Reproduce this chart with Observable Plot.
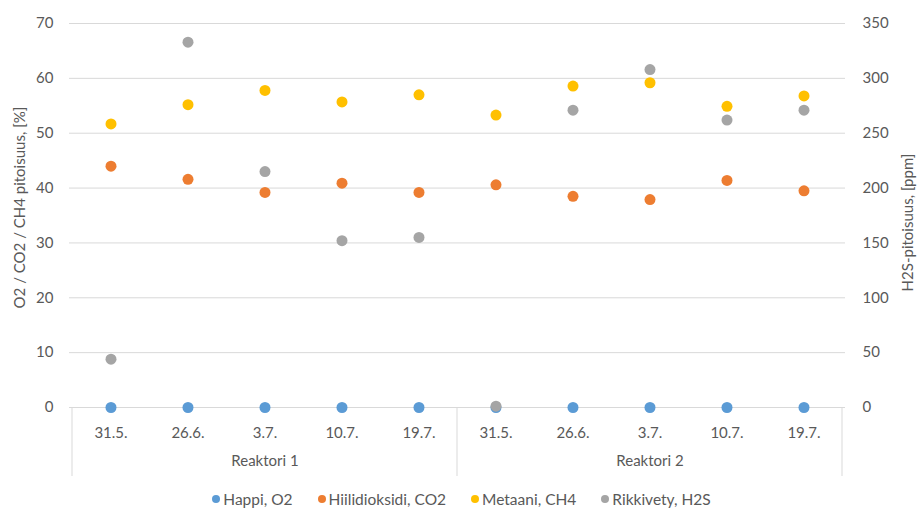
<!DOCTYPE html>
<html>
<head>
<meta charset="utf-8">
<script src="https://cdn.jsdelivr.net/npm/d3@7"></script>
<script src="https://cdn.jsdelivr.net/npm/@observablehq/plot@0.6"></script>
<style>
  html, body { margin: 0; padding: 0; background: #ffffff; }
  body { font-family: Lato, "Open Sans", sans-serif; width: 917px; }
  #legend { display: flex; justify-content: center; align-items: center; height: 27px;
            font-size: 15.5px; color: #595959; gap: 25px; padding-left: 6px; box-sizing: border-box; }
  .item { display: flex; align-items: center; gap: 3px; }
  .sw { width: 8px; height: 8px; border-radius: 50%; display: inline-block; }
</style>
</head>
<body>
<div id="chart"></div>
<div id="legend"></div>
<script>
// ---- data ----
const reactors = ["Reaktori 1", "Reaktori 2"];
const dates = ["31.5.", "26.6.", "3.7.", "10.7.", "19.7."];
const seriesNames = ["Happi, O2", "Hiilidioksidi, CO2", "Metaani, CH4", "Rikkivety, H2S"];
const seriesColors = ["#5B9BD5", "#ED7D31", "#FFC000", "#A5A5A5"];
// values per reactor x date (R1 then R2)
const o2  = [0, 0, 0, 0, 0,   0, 0, 0, 0, 0];            // %
const co2 = [44.0, 41.6, 39.2, 40.9, 39.2,   40.6, 38.5, 37.9, 41.4, 39.5]; // %
const ch4 = [51.7, 55.2, 57.8, 55.7, 57.0,   53.3, 58.6, 59.2, 54.9, 56.8]; // %
const h2s = [44, 333, 215, 152, 155,   1.2, 271, 308, 262, 271];        // ppm (right axis)
const leftTicks = [0, 10, 20, 30, 40, 50, 60, 70];
const rightTicks = [0, 50, 100, 150, 200, 250, 300, 350];
const leftTitle = "O2 / CO2 / CH4 pitoisuus, [%]";
const rightTitle = "H2S-pitoisuus, [ppm]";

// ---- build ----
const ratio = rightTicks[rightTicks.length - 1] / leftTicks[leftTicks.length - 1]; // 5
const keys = [];
reactors.forEach(r => dates.forEach(d => keys.push(r + "|" + d)));
const seriesVals = [o2, co2, ch4, h2s];
const rows = [];
seriesVals.forEach((vals, s) => vals.forEach((v, i) => rows.push({
  key: keys[i], series: seriesNames[s],
  y: s === 3 ? v / ratio : v
})));

const textColor = "#595959";

function separators(index, scales, values, dims) {
  const x = scales.x, y = scales.y;
  const bw = x.bandwidth();
  const y0 = y(0);
  const xs = [x(keys[0]), x(keys[dates.length]), x(keys[keys.length - 1]) + bw];
  const g = d3.create("svg:g");
  xs.forEach(px => g.append("line")
    .attr("x1", px).attr("x2", px).attr("y1", y0).attr("y2", y0 + 69)
    .attr("stroke", "#D9D9D9").attr("stroke-width", 1));
  return g.node();
}

const chart = Plot.plot({
  width: 917,
  height: 485,
  marginLeft: 69,
  marginRight: 72,
  marginTop: 23,
  marginBottom: 78,
  style: { fontFamily: "Lato, 'Open Sans', sans-serif", fontSize: "15px", color: textColor, background: "#fff", overflow: "visible" },
  x: { type: "band", domain: keys, padding: 0 },
  y: { domain: [0, 70] },
  color: { domain: seriesNames, range: seriesColors },
  marks: [
    Plot.gridY(leftTicks.filter(v => v > 0), { stroke: "#D9D9D9", strokeOpacity: 1 }),
    Plot.ruleY([0], { stroke: "#D9D9D9", strokeOpacity: 1 }),
    separators,
    Plot.axisY(leftTicks, { anchor: "left", tickSize: 0, tickPadding: 16, label: null, fill: textColor }),
    Plot.axisY(rightTicks.map(v => v / ratio), { anchor: "right", tickSize: 0, tickPadding: 17, label: null,
      tickFormat: d => String(Math.round(d * ratio)), fill: textColor }),
    Plot.axisX({ tickSize: 0, tickPadding: 20, label: null, tickFormat: k => k.split("|")[1], fill: textColor }),
    Plot.text(reactors, { x: r => r + "|" + dates[2], frameAnchor: "bottom", dy: 58, text: d => d, fill: textColor }),
    Plot.text([leftTitle], { frameAnchor: "left", textAnchor: "middle", dx: -49, dy: -8, rotate: -90, text: d => d, fill: textColor }),
    Plot.text([rightTitle], { frameAnchor: "right", textAnchor: "middle", dx: 63, dy: 7, rotate: -90, text: d => d, fill: textColor }),
    Plot.dot(rows, { x: "key", y: "y", fill: "series", r: 5.5, stroke: null })
  ]
});
document.getElementById("chart").appendChild(chart);

const legend = d3.select("#legend");
seriesNames.forEach((n, i) => {
  const it = legend.append("div").attr("class", "item");
  it.append("span").attr("class", "sw").style("background", seriesColors[i]);
  it.append("span").text(n);
});
</script>
</body>
</html>
